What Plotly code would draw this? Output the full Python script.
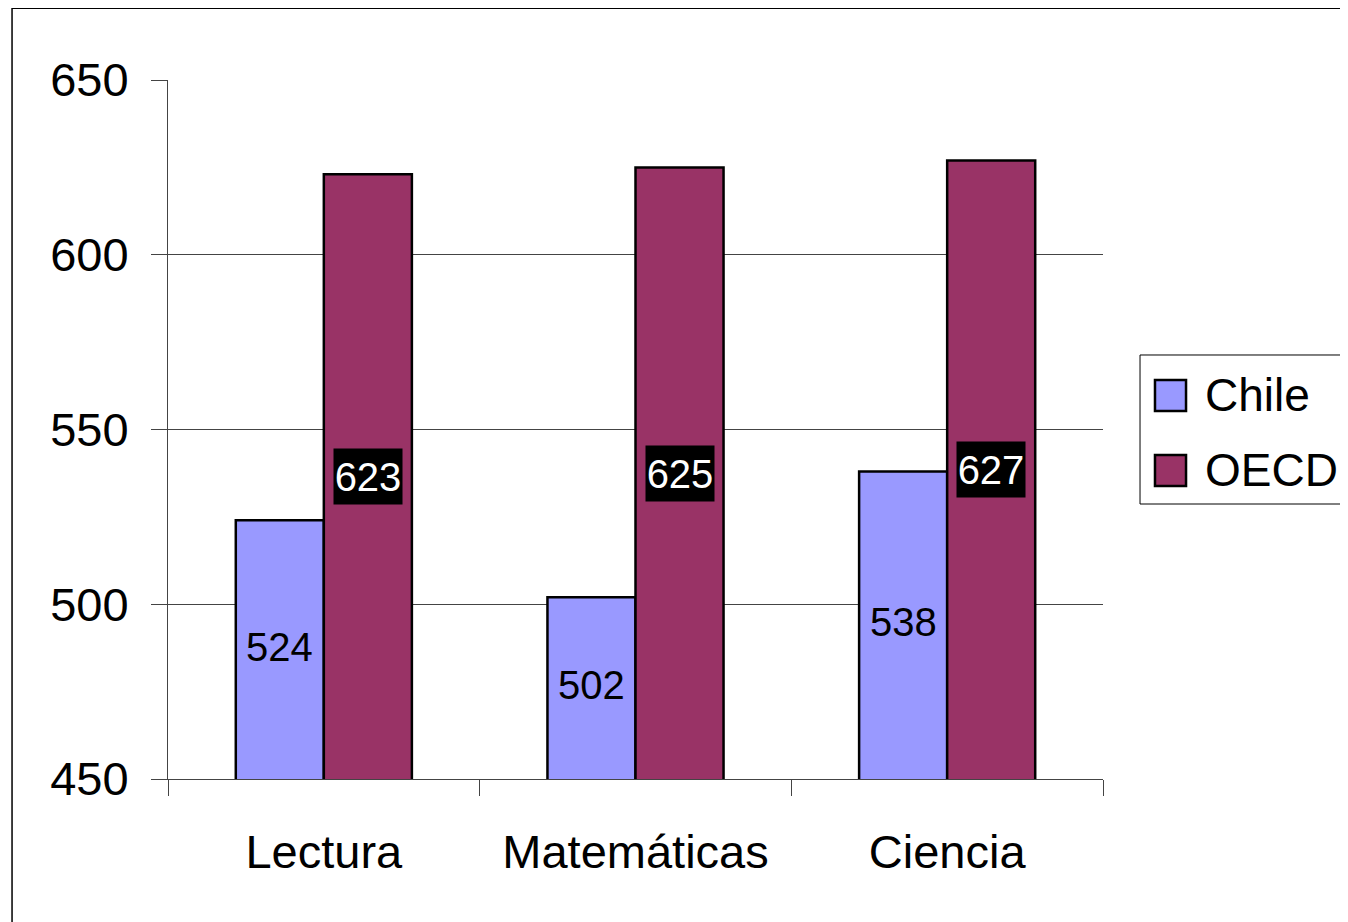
import plotly.graph_objects as go

categories = ["Lectura", "Matemáticas", "Ciencia"]
chile = [524, 502, 538]
oecd = [623, 625, 627]
series_names = ["Chile", "OECD"]
series_colors = ["#9999FF", "#993366"]
y_ticks = [450, 500, 550, 600, 650]
grid_vals = [500, 550, 600]
y_base = 450

FONT = "Liberation Sans, Arial, sans-serif"

fig = go.Figure()
for name, vals, col in zip(series_names, [chile, oecd], series_colors):
    fig.add_trace(go.Bar(
        x=categories, y=vals, name=name, showlegend=False,
        marker=dict(color=col, line=dict(color="black", width=2.5)),
    ))

# value labels centred in the visible part of each bar
for c, v in zip(categories, chile):
    fig.add_annotation(
        x=c, y=(y_base + v) / 2, xref="x", yref="y", xshift=-44, yshift=3,
        text=str(v), showarrow=False,
        font=dict(family=FONT, size=40, color="black"),
    )
for c, v in zip(categories, oecd):
    fig.add_annotation(
        x=c, y=(y_base + v) / 2, xref="x", yref="y", xshift=44,
        text=str(v), showarrow=False, bgcolor="black", borderpad=0,
        width=68, height=55,
        font=dict(family=FONT, size=40, color="white"),
    )

# custom legend (large swatches)
sw_y = [(0.5265, 0.5708), (0.4192, 0.4635)]
txt_y = [0.5494, 0.4421]
shapes = [
    dict(type="rect", xref="paper", yref="paper", x0=-0.1668, x1=1.4,
         y0=-0.4, y1=1.1025, line=dict(color="black", width=1.5), layer="below"),
    dict(type="rect", xref="paper", yref="paper", x0=1.0396, x1=1.35,
         y0=0.3934, y1=0.6066, line=dict(color="black", width=1), fillcolor="white"),
]
for name, col, (y0, y1), ty in zip(series_names, series_colors, sw_y, txt_y):
    shapes.append(dict(type="rect", xref="paper", yref="paper", x0=1.0556, x1=1.0888,
                       y0=y0, y1=y1, fillcolor=col, line=dict(color="black", width=2.5)))
    fig.add_annotation(x=1.107, y=ty, xref="paper", yref="paper", xanchor="left",
                       yanchor="middle", text=name, showarrow=False,
                       font=dict(family=FONT, size=46, color="black"))

fig.update_layout(
    width=1340, height=914,
    margin=dict(l=160, r=245, t=72, b=143),
    paper_bgcolor="white", plot_bgcolor="white",
    barmode="group", bargap=0.435, bargroupgap=0,
    font=dict(family=FONT, size=47, color="black"),
    showlegend=False,
    xaxis=dict(
        type="category", showgrid=False, showline=True, linecolor="#444", linewidth=1,
        ticks="outside", ticklen=16, tickcolor="#444", tickson="boundaries",
        tickfont=dict(family=FONT, size=47, color="black"), ticklabelstandoff=32,
    ),
    yaxis=dict(
        range=[450, 650], tickvals=y_ticks, showgrid=False, showline=True,
        linecolor="#444", linewidth=1, ticks="outside", ticklen=16, tickcolor="#444",
        tickfont=dict(family=FONT, size=47, color="black"), ticklabelstandoff=13,
        zeroline=False,
        minor=dict(tickvals=grid_vals, showgrid=True, gridcolor="#444", gridwidth=1, ticks=""),
    ),
    shapes=shapes,
)

fig.write_html("out.html")
